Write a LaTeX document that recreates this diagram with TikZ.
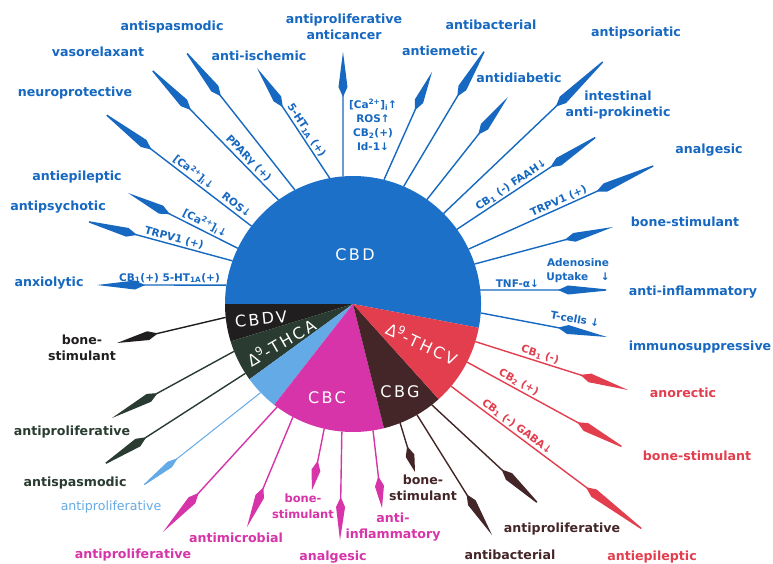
\documentclass[tikz,border=0pt]{standalone}
\usepackage{fontspec}
\setmainfont{DejaVu Sans}
\newfontfamily\piefont[LetterSpace=15]{DejaVu Sans}
\usetikzlibrary{arrows.meta,calc}

\definecolor{cbd}{RGB}{28,112,200}
\definecolor{cbdtxt}{RGB}{22,104,192}
\definecolor{cbdv}{RGB}{32,30,30}
\definecolor{thca}{RGB}{42,60,50}
\definecolor{lblue}{RGB}{100,170,230}
\definecolor{cbc}{RGB}{214,52,168}
\definecolor{cbg}{RGB}{68,38,40}
\definecolor{thcv}{RGB}{226,62,78}

\tikzset{
  lab/.style={font=\bfseries\fontsize{12.6}{16}\selectfont, align=center, inner sep=0pt},
  ann/.style={font=\bfseries\fontsize{10.5}{14}\selectfont, align=center, inner sep=0pt},
  onln/.style={ann, sloped, above=1.5pt, pos=#1},
  pielab/.style={font=\piefont\fontsize{16}{18}\selectfont, text=white, inner sep=0pt},
  hd/.style={-{Kite[length=#1pt,width=9pt,inset=10pt]}},
  ln/.style={line width=1.4pt},
}

\begin{document}
\begin{tikzpicture}[x=1pt,y=-1pt]
\useasboundingbox (0,0) rectangle (773,564);
\fill[white] (0,0) rectangle (773,564);

\coordinate (C) at (353,304);
\begin{scope}[shift={(C)},x=1pt,y=1pt]
  \fill[cbd]   (0,0) -- (-10.7:128) arc[start angle=-10.7, end angle=180, radius=128] -- cycle;
  \fill[cbdv]  (0,0) -- (180:128) arc[start angle=180, end angle=197, radius=128] -- cycle;
  \fill[thca]  (0,0) -- (197:128) arc[start angle=197, end angle=216, radius=128] -- cycle;
  \fill[lblue] (0,0) -- (216:128) arc[start angle=216, end angle=232, radius=128] -- cycle;
  \fill[cbc]   (0,0) -- (232:128) arc[start angle=232, end angle=284, radius=128] -- cycle;
  \fill[cbg]   (0,0) -- (284:128) arc[start angle=284, end angle=312, radius=128] -- cycle;
  \fill[thcv]  (0,0) -- (312:128) arc[start angle=312, end angle=349.3, radius=128] -- cycle;
  \foreach \n/\a in {a1/171.5, a2/160.3, a3/154.2, a4/142.5, a5/125.6, a6/117, a7/100.5,
      a8/94.5, a9/76, a10/66.7, a11/54.7, a12/45, a13/35.7, a14/25.4, a15/18.2, a16/6.3,
      a17/-4, b1/186, g1/201.7, g2/212.8, l1/223.8, m1/233.6, m2/242, m3/257, m4/265,
      m5/279, n1/291.6, n2/300, n3/308, d1/342.9, d2/333, d3/320}
    \coordinate (r\n) at (\a:128);
\end{scope}

% pie labels
\node[pielab] (pCBD) at (355,255) {CBD};
\node[pielab, rotate=6] (pCBDV) at (261,319) {CBDV};
\node[pielab, rotate=30] (pTHCA) at (281,342) {Δ\textsuperscript{9}-THCA};
\node[pielab, rotate=-25] (pTHCV) at (422,343) {Δ\textsuperscript{9}-THCV};
\node[pielab] (pCBC) at (327,398) {CBC};
\node[pielab] (pCBG) at (400,392) {CBG};

% tips
\coordinate (ta1) at (97,285);
\coordinate (ta2) at (82,220);
\coordinate (ta3) at (128,193);
\coordinate (ta4) at (100,110);
\coordinate (ta5) at (147,65);
\coordinate (ta6) at (182,47);
\coordinate (ta7) at (257,68);
\coordinate (ta8) at (343,52);
\coordinate (ta9) at (432,72);
\coordinate (ta10) at (488,45);
\coordinate (ta11) at (508,97);
\coordinate (ta12) at (610,55);
\coordinate (ta13) at (602,133);
\coordinate (ta14) at (662,162);
\coordinate (ta15) at (613,227);
\coordinate (ta16) at (613,290);
\coordinate (ta17) at (607,337);
\coordinate (tb1) at (117,343);
\coordinate (tg1) at (112,418);
\coordinate (tg2) at (100,467);
\coordinate (tl1) at (140,488);
\coordinate (tm1) at (163,532);
\coordinate (tm2) at (247,527);
\coordinate (tm3) at (312,490);
\coordinate (tm4) at (340,540);
\coordinate (tm5) at (382,508);
\coordinate (tn1) at (415,472);
\coordinate (tn2) at (492,535);
\coordinate (tn3) at (542,507);
\coordinate (td1) at (628,390);
\coordinate (td2) at (628,450);
\coordinate (td3) at (650,535);

% blue arrows (CBD), with their annotations
\begin{scope}[ln, cbdtxt, every node/.style={text=cbdtxt}]
\draw[hd=48] (ra1) -- node[onln=0.44] {CB\textsubscript{1}(+) 5-HT\textsubscript{1A}(+)} (ta1);
\draw[hd=57] (ra2) -- node[onln=0.40] {TRPV1 (+)} (ta2);
\draw[hd=47] (ra3) -- node[onln=0.33] {[Ca\textsuperscript{2+}]\textsubscript{i}↓} (ta3);
\draw[hd=65] (ra4) -- node[onln=0.29] {[Ca\textsuperscript{2+}]\textsubscript{i}↓\hspace{1.3em}ROS↓} (ta4);
\draw[hd=63] (ra5) -- node[onln=0.27] {PPARγ (+)} (ta5);
\draw[hd=63] (ra6) -- (ta6);
\draw[hd=47] (ra7) -- node[onln=0.40] {5-HT\textsubscript{1A} (+)} (ta7);
\draw[hd=45] (ra8) -- (ta8);
\draw[hd=42] (ra9) -- (ta9);
\draw[hd=60] (ra10) -- (ta10);
\draw[hd=48] (ra11) -- (ta11);
\draw[hd=75] (ra12) -- (ta12);
\draw[hd=62] (ra13) -- node[onln=0.40] {CB\textsubscript{1} (-) FAAH↓} (ta13);
\draw[hd=72] (ra14) -- node[onln=0.48] {TRPV1 (+)} (ta14);
\draw[hd=50] (ra15) -- (ta15);
\draw[hd=55] (ra16) -- node[onln=0.28] {TNF-α↓} (ta16);
\draw[hd=50] (ra17) -- node[ann, sloped, above=7pt, pos=0.73] {T-cells ↓} (ta17);
\end{scope}
\node[ann, text=cbdtxt] (n8) at (373,125) {[Ca\textsuperscript{2+}]\textsubscript{i}↑\\ROS↑\\CB\textsubscript{2}(+)\\Id-1↓};
\node[ann, text=cbdtxt] (n16b) at (578,271) {Adenosine\\Uptake\hspace{1.2em}↓};

% other arrows
\draw[ln, cbdv, hd=42] (rb1) -- (tb1);
\foreach \n/\h in {g1/52, g2/55} \draw[ln, thca, hd=\h] (r\n) -- (t\n);
\draw[line width=1pt, lblue, -{Kite[length=48pt,width=7pt,inset=10pt]}] (rl1) -- (tl1);
\foreach \n/\h in {m1/53, m2/43, m3/30, m4/43, m5/32} \draw[ln, cbc, hd=\h] (r\n) -- (t\n);
\foreach \n/\h in {n1/27, n2/48, n3/55} \draw[ln, cbg, hd=\h] (r\n) -- (t\n);
\begin{scope}[ln, thcv, every node/.style={text=thcv}]
\draw[hd=50] (rd1) -- node[onln=0.41] {CB\textsubscript{1} (-)} (td1);
\draw[hd=58] (rd2) -- node[onln=0.30] {CB\textsubscript{2} (+)} (td2);
\draw[hd=80] (rd3) -- node[onln=0.31] {CB\textsubscript{1} (-) GABA↓} (td3);
\end{scope}

% labels
\begin{scope}[every node/.style={lab, text=cbdtxt}]
\node (La1) at (49,283) {anxiolytic};
\node (La2) at (58,207) {antipsychotic};
\node (La3) at (77,177) {antiepileptic};
\node (La4) at (75,93) {neuroprotective};
\node (La5) at (98,52) {vasorelaxant};
\node (La6) at (172,27) {antispasmodic};
\node (La7) at (259,56) {anti-ischemic};
\node (La8) at (344,27) {antiproliferative\\anticancer};
\node (La9) at (440,51) {antiemetic};
\node (La10) at (491,25) {antibacterial};
\node (La11) at (519,78) {antidiabetic};
\node (La12) at (636,33) {antipsoriatic};
\node (La13) at (618,105) {intestinal\\anti-prokinetic};
\node (La14) at (709,150) {analgesic};
\node (La15) at (685,222) {bone-stimulant};
\node (La16) at (693,292) {anti-inflammatory};
\node (La17) at (700,347) {immunosuppressive};
\end{scope}
\node[lab, text=cbdv] (Lb1) at (82,348) {bone-\\stimulant};
\node[lab, text=thca] (Lg1) at (72,432) {antiproliferative};
\node[lab, text=thca] (Lg2) at (75,483) {antispasmodic};
\node[lab, text=lblue, font=\mdseries\fontsize{12.6}{16}\selectfont] (Ll1) at (111,507) {antiproliferative};
\begin{scope}[every node/.style={lab, text=cbc}]
\node (Lm1) at (133,555) {antiproliferative};
\node (Lm2) at (236,538) {antimicrobial};
\node[font=\bfseries\fontsize{11.5}{16}\selectfont] (Lm3) at (303,506) {bone-\\stimulant};
\node (Lm4) at (333,557) {analgesic};
\node (Lm5) at (393,527) {anti-\\inflammatory};
\end{scope}
\begin{scope}[every node/.style={lab, text=cbg}]
\node (Ln1) at (423,488) {bone-\\stimulant};
\node (Ln2) at (510,555) {antibacterial};
\node (Ln3) at (562,529) {antiproliferative};
\end{scope}
\begin{scope}[every node/.style={lab, text=thcv}]
\node (Ld1) at (683,393) {anorectic};
\node (Ld2) at (697,456) {bone-stimulant};
\node (Ld3) at (652,557) {antiepileptic};
\end{scope}
\end{tikzpicture}
\end{document}
